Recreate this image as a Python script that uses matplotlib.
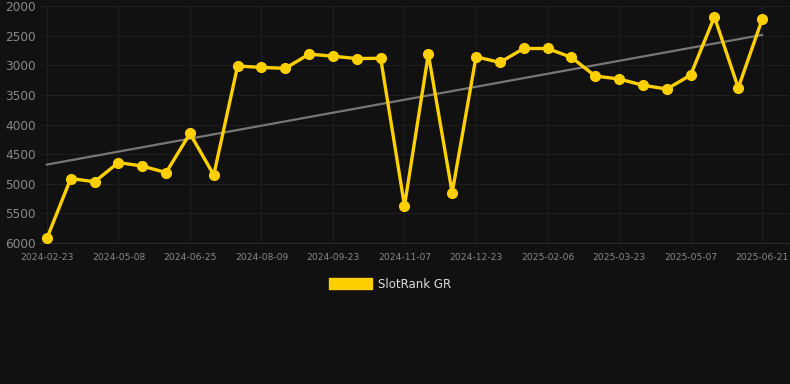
import matplotlib
matplotlib.use("Agg")
import matplotlib.pyplot as plt
from matplotlib.patches import Patch
import numpy as np

# rank values, one every ~15 days
rank = [5920, 4910, 4965, 4640, 4700, 4810, 4150, 4850, 3010, 3035,
        3050, 2810, 2845, 2885, 2880, 5370, 2810, 5150, 2855, 2950,
        2715, 2715, 2865, 3180, 3230, 3335, 3400, 3165, 2180, 3380, 2225]
tick_labels = ["2024-02-23", "2024-05-08", "2024-06-25", "2024-08-09",
               "2024-09-23", "2024-11-07", "2024-12-23", "2025-02-06",
               "2025-03-23", "2025-05-07", "2025-06-21"]
series_name = "SlotRank GR"

bg = "#111111"
yellow = "#FFD000"

x = np.arange(len(rank))

fig = plt.figure(figsize=(7.9, 3.84), dpi=100, facecolor=bg)
ax = fig.add_axes([0.0506, 0.367, 0.9494, 0.617], facecolor=bg)

# trend line (least squares)
k, b = np.polyfit(x, rank, 1)
ax.plot(x, k * x + b, color="#777777", lw=1.6, zorder=2)

ax.plot(x, rank, color=yellow, lw=2.4, marker="o", ms=7,
        solid_joinstyle="miter", zorder=3)

ax.set_ylim(6000, 2000)
ax.set_yticks(range(2000, 6001, 500))
ax.set_xlim(-0.29, 31.17)
ax.set_xticks(x[::3])
ax.set_xticklabels(tick_labels)

ax.grid(True, color="#1e1e1e", lw=0.8)
for s in ["top", "right", "left"]:
    ax.spines[s].set_visible(False)
ax.spines["bottom"].set_color("#2a2a2a")
ax.tick_params(axis="x", colors="#888888", labelsize=6.6, length=0, pad=7)
ax.tick_params(axis="y", colors="#888888", labelsize=8.7, length=0, pad=3)

fig.legend(handles=[Patch(color=yellow, label=series_name)],
           loc="center", bbox_to_anchor=(0.494, 0.26), frameon=False,
           labelcolor="#dddddd", fontsize=8.5, handlelength=3.6,
           handleheight=1.1, handletextpad=0.5)

fig.savefig("out.png", dpi=100, facecolor=bg)
